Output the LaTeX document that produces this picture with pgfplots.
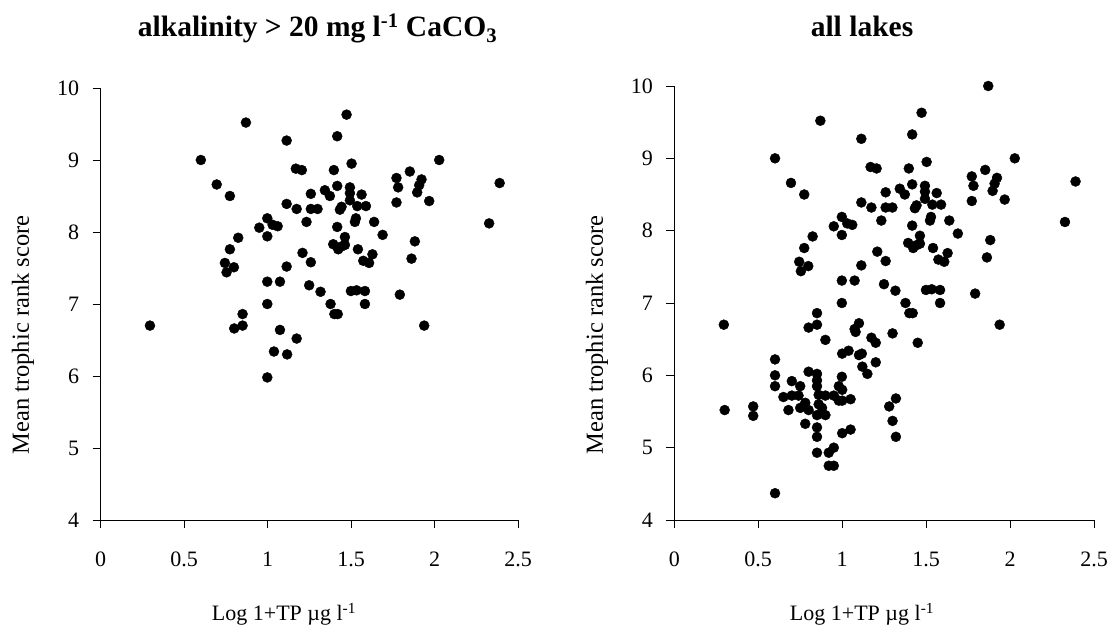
\documentclass[border=0pt]{standalone}
\usepackage{pgfplots}
\usepackage{pgfplotstable}
\pgfplotsset{compat=1.18}
\usepackage{fontspec}
\setmainfont{Liberation Serif}

\pgfplotstableread{
x y
0.870 9.52
1.114 9.27
0.600 9.00
0.695 8.66
0.774 8.50
1.114 8.39
0.998 8.19
0.950 8.06
1.030 8.10
1.060 8.08
0.998 7.94
0.824 7.92
0.774 7.76
0.744 7.57
0.798 7.51
0.754 7.44
1.114 7.52
0.998 7.31
1.074 7.31
0.998 7.00
0.850 6.86
0.295 6.70
0.800 6.66
0.850 6.70
1.074 6.64
1.249 7.26
1.317 7.17
1.377 7.00
1.400 6.86
1.420 6.86
1.174 6.52
1.038 6.34
1.117 6.30
0.998 5.98
1.473 9.63
1.417 9.33
1.503 8.95
2.028 9.00
1.169 8.88
1.205 8.86
1.397 8.86
1.852 8.84
1.772 8.75
1.922 8.73
1.908 8.65
1.782 8.62
1.417 8.64
1.493 8.62
1.896 8.55
1.968 8.43
1.772 8.41
1.343 8.58
1.373 8.50
1.259 8.53
1.493 8.54
1.493 8.44
1.563 8.52
1.174 8.32
1.259 8.32
1.299 8.32
1.443 8.35
1.433 8.31
1.537 8.36
1.589 8.36
1.233 8.14
1.529 8.19
1.523 8.14
1.638 8.14
1.417 8.07
1.689 7.96
1.463 7.93
1.393 7.83
1.423 7.76
1.463 7.82
1.443 7.80
1.541 7.76
1.882 7.87
1.862 7.63
1.209 7.71
1.259 7.58
1.573 7.60
1.608 7.57
1.628 7.69
1.499 7.18
1.533 7.19
1.583 7.18
1.583 7.00
1.792 7.13
1.938 6.70
2.327 8.12
2.390 8.68
}\alkdata

\pgfplotstableread{
x y
0.30 5.52
0.47 5.57
0.47 5.44
0.60 6.22
0.60 6.00
0.60 5.85
0.60 4.37
0.65 5.70
0.70 5.92
0.70 5.72
0.68 5.52
0.75 5.85
0.75 5.55
0.74 5.72
0.78 5.62
0.78 5.33
0.80 5.52
0.80 6.05
0.85 6.02
0.85 5.93
0.85 5.85
0.86 5.73
0.86 5.60
0.85 5.45
0.85 5.28
0.85 5.15
0.85 4.93
0.88 5.55
0.90 5.72
0.90 5.45
0.92 4.93
0.92 4.75
0.95 4.75
0.95 5.72
0.95 5.00
0.98 5.85
0.98 5.65
1.00 6.30
1.00 5.80
1.00 5.65
1.00 5.20
1.05 5.25
1.05 5.67
1.08 6.60
1.10 6.72
1.10 6.28
1.12 6.12
1.15 6.02
1.20 6.45
1.20 6.18
1.28 5.57
1.30 5.37
1.32 5.68
1.32 5.15
1.30 6.58
1.45 6.45
0.90 6.49
1.87 10.00
}\lowalkdata

\pgfplotsset{
  panel/.style={
    scale only axis,
    xmin=0, xmax=2.5, ymin=4, ymax=10,
    axis lines=left,
    axis line style={-, black, line width=0.8pt},
    tick style={black, line width=0.8pt},
    tick align=outside,
    major tick length=8pt,
    xtick={0,0.5,...,2.5},
    ytick={4,5,...,10},
    /pgf/number format/assume math mode=true,
    ticklabel style={font=\fontsize{22}{26}\selectfont},
    xticklabel style={yshift=-20pt},
    yticklabel style={xshift=-10pt},
    clip=false,
  },
  dots/.style={only marks, mark=*, mark size=5pt, mark options={fill=black, draw=black}},
}

\begin{document}
\begin{tikzpicture}[x=1pt,y=1pt]
\useasboundingbox (0,0) rectangle (1116,628);

\begin{axis}[panel, at={(100.7pt,108pt)}, anchor=south west, width=417.3pt, height=432pt]
\addplot[dots] table[x=x,y=y] {\alkdata};
\end{axis}

\begin{axis}[panel, at={(674.3pt,108pt)}, anchor=south west, width=419.7pt, height=434pt]
\addplot[dots] table[x=x,y=y] {\alkdata};
\addplot[dots] table[x=x,y=y] {\lowalkdata};
\end{axis}

\node[anchor=base, font=\fontsize{29.5}{34}\selectfont\bfseries] at (317.5,591)
  {alkalinity > 20 mg l\textsuperscript{-1} CaCO\textsubscript{3}};
\node[anchor=base, font=\fontsize{29.5}{34}\selectfont\bfseries] at (862,591) {all lakes};

\node[anchor=base, font=\fontsize{22}{26}\selectfont] at (284,7) {Log 1+TP µg l\textsuperscript{-1}};
\node[anchor=base, font=\fontsize{22}{26}\selectfont] at (862,7) {Log 1+TP µg l\textsuperscript{-1}};

\node[rotate=90, font=\fontsize{24.5}{28}\selectfont] at (23,293) {Mean trophic rank score};
\node[rotate=90, font=\fontsize{24.5}{28}\selectfont] at (597,293) {Mean trophic rank score};
\end{tikzpicture}
\end{document}
